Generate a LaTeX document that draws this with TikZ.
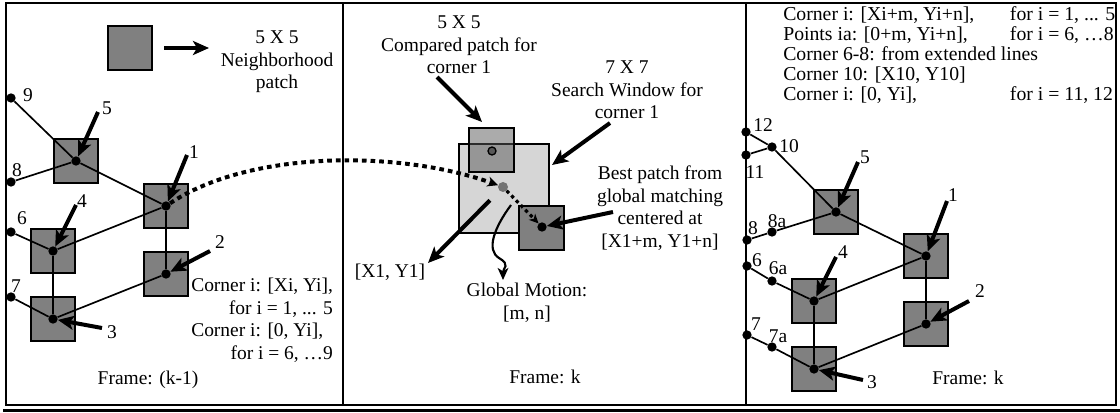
\documentclass[tikz,border=0pt]{standalone}
\usepackage{fontspec}
\setmainfont{Liberation Serif}
\usetikzlibrary{arrows.meta}
\definecolor{patchgray}{RGB}{128,128,128}
\definecolor{wingray}{RGB}{214,214,214}
\definecolor{cmpgray}{RGB}{88,88,88}
\definecolor{gdotgray}{RGB}{115,115,115}
\begin{document}
\begin{tikzpicture}[x=0.75pt,y=-0.75pt,
  every node/.style={font=\fontsize{14.6}{17}\selectfont, inner sep=0pt},
  patch/.style={rectangle, draw=black, line width=1.5pt, fill=patchgray, minimum size=33.5pt},
  dot/.style={circle, fill=black, inner sep=0pt, minimum size=7pt},
  edge/.style={line width=1.25pt},
  bigarrow/.style={line width=3pt, -{Stealth[length=12pt,width=10.5pt,inset=3pt]}},
  dotarrow/.style={line width=3pt, dash pattern=on 3.5pt off 3pt, -{Stealth[length=8pt,width=7.5pt,inset=2.5pt]}},
  smalldotarrow/.style={line width=2.4pt, dash pattern=on 2.5pt off 2.5pt, -{Stealth[length=7pt,width=6.5pt,inset=2pt]}},
  wavy/.style={line width=1.6pt, -{Stealth[length=9pt,width=8pt,inset=2.5pt]}},
  frameline/.style={line width=1.5pt}
]
\useasboundingbox (0,0) rectangle (1120,413);
% frame
\draw[frameline] (6,3) rectangle (1116,405);
\draw[frameline] (343,3) -- (343,405);
\draw[frameline] (746,3) -- (746,405);
\draw[line width=2.4pt] (3,410.5) -- (1120,410.5);

% ================= LEFT PANEL =================
\node[patch] (legsq) at (130,48) {};
\coordinate (legtail) at (164,48);
\coordinate (legtip) at (209,48);
\draw[bigarrow] (legtail) -- (legtip);
\node[align=center] (legtxt) at (277,62) {5 X 5\\Neighborhood\\patch};

\node[patch] (sq5) at (76,161) {};
\node[patch] (sq1) at (166,206) {};
\node[patch] (sq4) at (53,251) {};
\node[patch] (sq2) at (166,274) {};
\node[patch] (sq3) at (53,319) {};

\node[dot] (c5) at (76,161) {};
\node[dot] (c1) at (166,206) {};
\node[dot] (c4) at (53,251) {};
\node[dot] (c2) at (166,274) {};
\node[dot] (c3) at (53,319) {};
\node[dot] (d9) at (11,98) {};
\node[dot] (d8) at (11,182) {};
\node[dot] (d6) at (11,232) {};
\node[dot] (d7) at (11,297) {};

\draw[edge] (d9) -- (c5);
\draw[edge] (c5) -- (c1);
\draw[edge] (d8) -- (c5);
\draw[edge] (c1) -- (c4);
\draw[edge] (d6) -- (c4);
\draw[edge] (c4) -- (c3);
\draw[edge] (c1) -- (c2);
\draw[edge] (c2) -- (c3);
\draw[edge] (d7) -- (c3);

\node (l9) at (28,95) {9};
\node (l8) at (17,170) {8};
\node (l6) at (22,218) {6};
\node (l7) at (16,286) {7};
\node (l5) at (107,108) {5};
\node (l1) at (194,152) {1};
\node (l4) at (82,201) {4};
\node (l2) at (220,242) {2};
\node (l3) at (112,332) {3};

\coordinate (t5) at (98,112);
\coordinate (t1) at (187,155);
\coordinate (t4) at (76,205);
\coordinate (t2) at (210,251);
\coordinate (t3) at (102,328);
\draw[bigarrow] (t5) -- (c5);
\draw[bigarrow] (t1) -- (c1);
\draw[bigarrow] (t4) -- (c4);
\draw[bigarrow] (t2) -- (c2);
\draw[bigarrow] (t3) -- (c3);

\node[anchor=west] (ltxt) at (191,321) {\begin{tabular}{@{}l@{}}Corner i: [Xi, Yi],\\\multicolumn{1}{@{}r@{}}{for i = 1, ... 5}\\Corner i: [0, Yi],\\\multicolumn{1}{@{}r@{}}{for i = 6, …9}\end{tabular}};
\node (lframe) at (148,380) {Frame: (k-1)};

% ================= MIDDLE PANEL =================
\node[align=center] (cmptxt) at (459,45) {5 X 5\\Compared patch for\\corner 1};
\node[align=center] (wintxt) at (627,90) {7 X 7\\Search Window for\\corner 1};
\node[rectangle, draw=black, line width=1.5pt, fill=wingray, minimum width=67.5pt, minimum height=66.8pt] (win) at (504,188.5) {};
\node[rectangle, draw=black, line width=1.5pt, fill=cmpgray, fill opacity=0.5, draw opacity=1, minimum size=33.5pt] (cmp) at (491.5,150) {};
\node[circle, draw=black, line width=1pt, fill=cmpgray, inner sep=0pt, minimum size=6pt] (cdot) at (492,151) {};
\node[patch] (best) at (541.5,228) {};
\node[dot] (bdot) at (542,227) {};
\node[circle, fill=gdotgray, inner sep=0pt, minimum size=7.5pt] (gdot) at (503,187) {};

\coordinate (cmptail) at (437,77);
\coordinate (cmptip) at (482,122);
\draw[bigarrow] (cmptail) -- (cmptip);
\coordinate (wintail) at (610,123);
\coordinate (wintip) at (552,165);
\draw[bigarrow] (wintail) -- (wintip);
\coordinate (besttail) at (613,212);
\draw[bigarrow] (besttail) -- (bdot);
\coordinate (x1tip) at (428,263);
\draw[bigarrow, shorten <=10pt] (gdot) -- (x1tip);

\draw[dotarrow] (c1) .. controls (250,150) and (400,150) .. (gdot);
\draw[smalldotarrow] (gdot) -- (bdot);

\coordinate (gmstart) at (511,205);
\coordinate (gmend) at (503,280);
\draw[wavy] (gmstart) .. controls (494,228) and (486,250) .. (499,258) .. controls (511,265) and (503,268) .. (gmend);

\node (x1txt) at (390,272) {[X1, Y1]};
\node[align=center] (gmtxt) at (527,303) {Global Motion:\\{[m, n]}};
\node[align=center] (besttxt) at (660,208) {Best patch from\\global matching\\centered at\\{[X1+m, Y1+n]}};
\node (mframe) at (545,377) {Frame: k};

% ================= RIGHT PANEL =================
\node[anchor=west, font=\fontsize{14.8}{15}\selectfont] (rtxt) at (783,57) {\begin{tabular}{@{}p{170pt}@{}l@{}}Corner i: [Xi+m, Yi+n], & for i = 1, ... 5\\Points ia: [0+m, Yi+n], & for i = 6, …8\\\multicolumn{2}{@{}l@{}}{Corner 6-8: from extended lines}\\\multicolumn{2}{@{}l@{}}{Corner 10: [X10, Y10]}\\Corner i: [0, Yi], & for i = 11, 12\end{tabular}};

\node[patch] (rsq5) at (836,212) {};
\node[patch] (rsq1) at (926,256) {};
\node[patch] (rsq4) at (814,301) {};
\node[patch] (rsq2) at (926,324) {};
\node[patch] (rsq3) at (814,369) {};

\node[dot] (r5) at (836,212) {};
\node[dot] (r1) at (926,256) {};
\node[dot] (r4) at (814,301) {};
\node[dot] (r2) at (926,324) {};
\node[dot] (r3) at (814,369) {};
\node[dot] (r12) at (746,132) {};
\node[dot] (r11) at (746,155) {};
\node[dot] (r10) at (772,147) {};
\node[dot] (r8) at (747,240) {};
\node[dot] (r8a) at (772,232) {};
\node[dot] (r6) at (747,266) {};
\node[dot] (r6a) at (772,281) {};
\node[dot] (r7) at (747,335) {};
\node[dot] (r7a) at (772,347) {};

\draw[edge] (r12) -- (r10);
\draw[edge] (r11) -- (r10);
\draw[edge] (r10) -- (r5);
\draw[edge] (r5) -- (r1);
\draw[edge] (r8) -- (r8a);
\draw[edge] (r8a) -- (r5);
\draw[edge] (r6) -- (r6a);
\draw[edge] (r6a) -- (r4);
\draw[edge] (r4) -- (r1);
\draw[edge] (r1) -- (r2);
\draw[edge] (r7) -- (r7a);
\draw[edge] (r7a) -- (r3);
\draw[edge] (r4) -- (r3);
\draw[edge] (r2) -- (r3);

\node (rl12) at (763,125) {12};
\node (rl11) at (755,172) {11};
\node (rl10) at (789,146) {10};
\node (rl8) at (753,228) {8};
\node (rl8a) at (777,221) {8a};
\node (rl6) at (757,260) {6};
\node (rl6a) at (778,268) {6a};
\node (rl7) at (756,324) {7};
\node (rl7a) at (778,336) {7a};
\node (rl5) at (865,157) {5};
\node (rl1) at (953,195) {1};
\node (rl4) at (843,252) {4};
\node (rl2) at (980,291) {2};
\node (rl3) at (872,382) {3};

\coordinate (rt5) at (858,162);
\coordinate (rt1) at (947,201);
\coordinate (rt4) at (836,257);
\coordinate (rt2) at (969,301);
\coordinate (rt3) at (863,380);
\draw[bigarrow] (rt5) -- (r5);
\draw[bigarrow] (rt1) -- (r1);
\draw[bigarrow] (rt4) -- (r4);
\draw[bigarrow] (rt2) -- (r2);
\draw[bigarrow] (rt3) -- (r3);

\node (rframe) at (968,378) {Frame: k};
\end{tikzpicture}
\end{document}
